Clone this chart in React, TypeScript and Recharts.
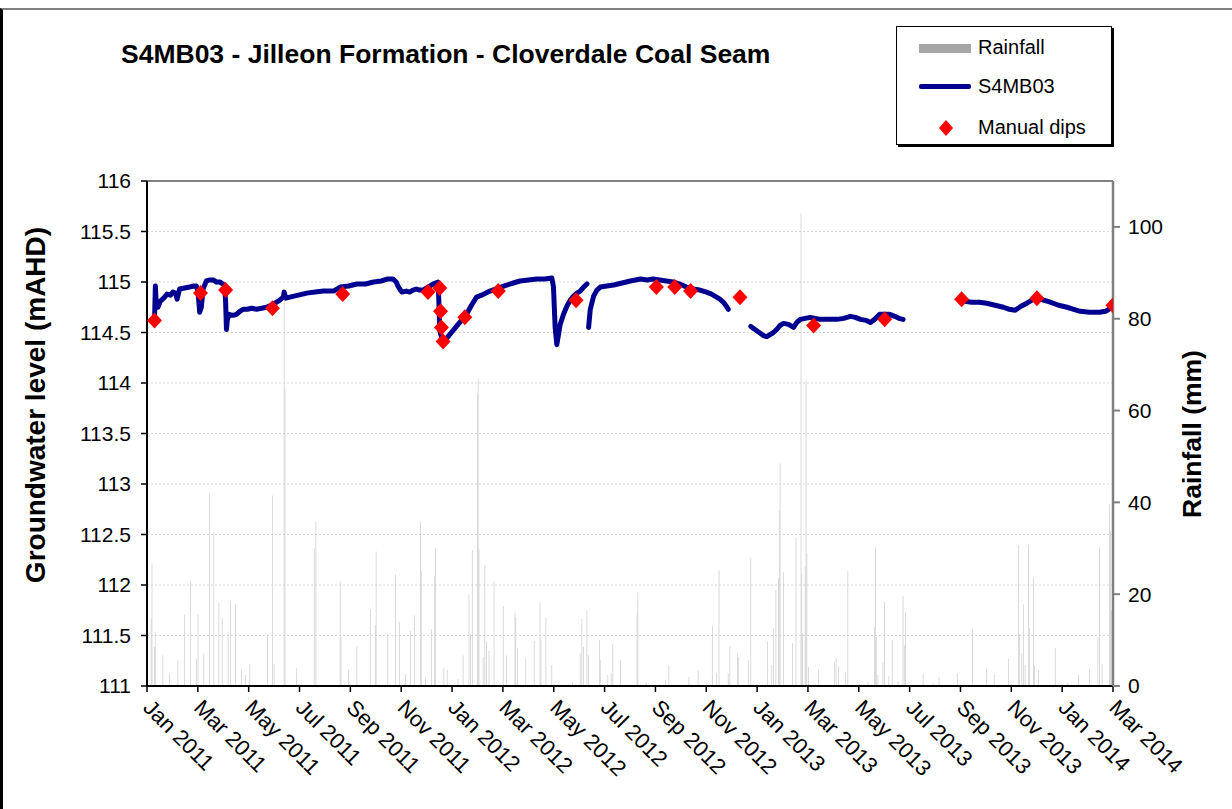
import React from 'react';
import {
  ComposedChart,
  Bar,
  Line,
  Scatter,
  XAxis,
  YAxis,
  CartesianGrid,
  ReferenceLine,
} from 'recharts';

// ---- axis definitions ----
const X_MAX_DAY = 1155; // days from 1 Jan 2011 to 1 Mar 2014
const xTickLabels = [
  'Jan 2011', 'Mar 2011', 'May 2011', 'Jul 2011', 'Sep 2011', 'Nov 2011',
  'Jan 2012', 'Mar 2012', 'May 2012', 'Jul 2012', 'Sep 2012', 'Nov 2012',
  'Jan 2013', 'Mar 2013', 'May 2013', 'Jul 2013', 'Sep 2013', 'Nov 2013',
  'Jan 2014', 'Mar 2014',
];
const leftTicks = [111, 111.5, 112, 112.5, 113, 113.5, 114, 114.5, 115, 115.5, 116];
const rightTicks = [0, 20, 40, 60, 80, 100];

// ---- groundwater logger (day since 1 Jan 2011, level mAHD); null = gap ----
const gwDays = [
  8, 9, 10, 11, 13, 16, 20, 24, 28, 31, 34, 36, 38, 39, 45, 51, 56, 59, 61, 63, 65, 67, 71, 75, 79, 83, 87, 91, 93, 94, 95, 96, 98,
  103, 107, 111, 115, 120, 125, 131, 137, 143, 151, 157, 163, 164, 166, 171, 181, 191, 201, 211, 223, 231, 241, 251, 261, 271, 280,
  288, 294, 298, 300, 303, 305, 310, 314, 318, 322, 326, 330, 336, 342, 348, 349, 350, 354, 358, 364, 370, 376, 382, 388, 394, 400,
  410, 420, 430, 438, 446, 456, 466, 476, 484, 486, 488, 490, 492, 494, 498, 502, 506, 510, 514, 518, 522, 526, 527,
  528, 530, 534, 538, 542, 550, 558, 568, 578, 590, 598, 605, 613, 621, 629, 637, 645, 653, 661, 669, 675, 681, 685, 689, 692, 695, 700,
  722, 727, 732, 737, 741, 745, 749, 753, 757, 761, 767, 773, 777, 781, 787, 793, 799, 805, 815, 825, 833, 841, 847, 853, 860, 865,
  870, 876, 882, 888, 894, 899, 904, 910,
  978, 986, 995, 1004, 1014, 1024, 1031, 1038, 1045, 1052, 1058, 1064, 1072, 1080, 1090, 1100, 1108, 1116, 1127, 1139, 1146, 1150, 1154,
];
const gwLevels: (number | null)[] = [
  114.6, 114.62, 114.96, 114.8, 114.75, 114.81, 114.84, 114.88, 114.87, 114.9, 114.89, 114.83, 114.9, 114.93, 114.94, 114.95, 114.96,
  114.96, 114.9, 114.7, 114.75, 114.93, 115.01, 115.02, 115.02, 115.0, 115.0, 114.98, 114.96, 114.8, 114.53, 114.62, 114.68,
  114.67, 114.68, 114.71, 114.73, 114.73, 114.74, 114.73, 114.74, 114.75, 114.78, 114.81, 114.85, 114.9, 114.84, 114.85, 114.87,
  114.89, 114.9, 114.91, 114.91, 114.95, 114.96, 114.98, 114.98, 115.0, 115.01,
  115.03, 115.03, 115.0, 114.96, 114.92, 114.9, 114.91, 114.9, 114.92, 114.93, 114.92, 114.92, 114.95, 114.98, 115.0, 114.8, 114.52,
  114.4, 114.44, 114.5, 114.56, 114.62, 114.68, 114.77, 114.85, 114.87,
  114.91, 114.94, 114.97, 114.99, 115.01, 115.02, 115.03, 115.03, 115.04, 114.95, 114.55, 114.38, 114.48, 114.58, 114.68, 114.76,
  114.82, 114.86, 114.89, 114.91, 114.95, 114.98, null,
  114.55, 114.73, 114.86, 114.92, 114.95, 114.96, 114.97, 114.99, 115.01, 115.03, 115.02, 115.03, 115.02, 115.01, 115.0, 114.98,
  114.95, 114.93, 114.92, 114.9, 114.88, 114.85, 114.83, 114.8, 114.77, 114.73, null,
  114.56, 114.53, 114.5, 114.47, 114.46, 114.48, 114.5, 114.53, 114.57, 114.59, 114.58, 114.55, 114.6, 114.63, 114.64, 114.65,
  114.64, 114.63, 114.63, 114.63, 114.64, 114.66, 114.65, 114.63, 114.62, 114.6, 114.63, 114.68, 114.68, 114.68, 114.66, 114.64,
  114.63, null,
  114.81, 114.8, 114.8, 114.79, 114.77, 114.75, 114.73, 114.72, 114.76, 114.79, 114.82, 114.85, 114.82, 114.8, 114.77, 114.75,
  114.73, 114.71, 114.7, 114.7, 114.71, 114.73, 114.76,
];

// ---- manual dips ----
const dipDays = [9, 64, 94, 150, 234, 336, 350, 351, 352, 354, 380, 420, 513, 609, 631, 650, 709, 797, 882, 974, 1064, 1155];
const dipLevels = [
  114.62, 114.89, 114.92, 114.74, 114.88, 114.9, 114.94, 114.71, 114.55, 114.41, 114.65, 114.91, 114.82, 114.95, 114.95, 114.91,
  114.85, 114.57, 114.63, 114.83, 114.84, 114.77,
];

// ---- daily rainfall (day, mm) ----
const rainDays = [
  5, 6, 9, 10, 19, 27, 37, 45, 52, 59, 61, 68, 75, 80, 86, 90, 97, 100, 106, 113, 118, 123, 144, 150, 152, 164, 165, 179, 200, 202,
  231, 232, 241, 251, 267, 273, 274, 288, 297, 302, 309, 315, 320, 327, 328, 333, 340, 344, 345, 355, 359, 372, 378, 385, 387, 389,
  395, 396, 397, 402, 404, 406, 409, 415, 426, 430, 440, 441, 443, 453, 463, 470, 471, 477, 484, 509, 518, 520, 522, 526, 528, 541,
  542, 551, 555, 557, 566, 586, 587, 597, 620, 624, 648, 659, 676, 681, 684, 695, 697, 706, 707, 719, 722, 742, 747, 749, 752, 755,
  756, 757, 761, 772, 776, 782, 783, 784, 787, 788, 789, 791, 803, 822, 824, 827, 835, 838, 862, 870, 871, 872, 874, 880, 882, 887,
  891, 898, 904, 906, 907, 928, 940, 947, 969, 987, 1004, 1013, 1030, 1042, 1043, 1046, 1048, 1050, 1054, 1055, 1060, 1061, 1066,
  1086, 1101, 1114, 1127, 1137, 1139, 1142, 1151, 1152, 1153,
];
const rainMm = [
  14.8, 26.5, 8.5, 11.7, 6.7, 2.8, 5.6, 15.6, 22.8, 6, 15.6, 7, 42, 33.5, 18, 14.8, 11.7, 18.5, 17.8, 3.5, 2.4, 4.8, 11.3, 41.5, 4.8,
  86, 65, 3.9, 30, 35.8, 22.8, 11, 3.5, 8.7, 16.7, 13.3, 29.3, 11.3, 24.3, 14, 2.6, 12, 15.4, 35.8, 25, 1.7, 12.4, 24, 30, 3.9, 3.5,
  1.5, 6.7, 20, 11.3, 29.6, 63.7, 67, 29.8, 6.3, 26.3, 9.6, 7.6, 22.8, 17.4, 6.7, 16, 15, 8.3, 6, 9.8, 18.2, 10.2, 14.8, 4.6, 0.9,
  7, 14.6, 8.5, 16.5, 6.7, 10, 5.6, 2.4, 2.8, 9.1, 5.6, 16, 20.4, 0.7, 1.3, 4.6, 2, 3.3, 13, 2.8, 25.2, 2.8, 8.7, 7, 6.3, 5.6, 28,
  9.6, 4.6, 12.6, 20.9, 23.5, 38.3, 48.5, 24.8, 9.3, 32.4, 103, 24.6, 11.5, 26, 66.5, 28.9, 4.1, 3.5, 5.2, 6.1, 4.3, 3, 25, 0.9,
  12.8, 30.2, 10.7, 2.4, 5.2, 18.3, 2.2, 10, 1.1, 19.6, 8.9, 16, 2.8, 0.7, 2, 2.8, 12.4, 3.7, 2.4, 5.9, 30.7, 11.3, 7.2, 17.8, 4.6,
  30.7, 12.6, 23.7, 4.6, 3.5, 8.3, 0.7, 2.4, 3.7, 10.7, 30.2, 4.8, 39.6, 33.7, 16.5,
];

const rainData = rainDays.map((d, i) => ({ d, mm: rainMm[i] }));
const gwData = gwDays.map((d, i) => ({ d, gw: gwLevels[i] }));
const dipData = dipDays.map((d, i) => ({ d, v: dipLevels[i] }));
const xTicks = xTickLabels.map((_, i) => (i * X_MAX_DAY) / (xTickLabels.length - 1));

const FONT = '"Liberation Sans", Arial, Helvetica, sans-serif';

const XTick = (props: any) => {
  const { x, y, payload } = props;
  const idx = Math.round((payload.value * (xTickLabels.length - 1)) / X_MAX_DAY);
  const tx = x - 5;
  const ty = y + 15;
  return (
    <text x={tx} y={ty} transform={`rotate(45, ${tx}, ${ty})`} textAnchor="start" fontSize={22} fill="#000" fontFamily={FONT}>
      {xTickLabels[idx]}
    </text>
  );
};

const Diamond = (props: any) => {
  const { cx, cy } = props;
  if (cx == null || cy == null) return null;
  return <polygon points={`${cx},${cy - 8} ${cx + 7.5},${cy} ${cx},${cy + 8} ${cx - 7.5},${cy}`} fill="#ff0000" />;
};

export default function App() {
  return (
    <div style={{ position: 'absolute', left: 0, top: 0, width: 1232, height: 809, background: '#fff', fontFamily: FONT, overflow: 'hidden' }}>
      <div style={{ position: 'absolute', left: 0, top: 8, width: 1232, height: 801, borderTop: '2px solid #808080', borderLeft: '3px solid #000', boxSizing: 'border-box' }} />
      <div style={{ position: 'absolute', left: 121, top: 38, fontSize: 26.5, fontWeight: 'bold', lineHeight: '32px', whiteSpace: 'nowrap', color: '#000' }}>
        S4MB03 - Jilleon Formation - Cloverdale Coal Seam
      </div>

      <ComposedChart width={1232} height={809} data={rainData} margin={{ top: 181, right: 0, bottom: 0, left: 0 }} style={{ position: 'absolute', left: 0, top: 0 }}>
        <CartesianGrid yAxisId="left" vertical={false} stroke="#d6d6d6" strokeDasharray="2 2" />
        <XAxis
          dataKey="d"
          type="number"
          domain={[0, X_MAX_DAY]}
          ticks={xTicks}
          interval={0}
          height={123}
          tick={<XTick />}
          tickSize={6}
          tickLine={{ stroke: '#000', strokeWidth: 1.5 }}
          axisLine={{ stroke: '#000', strokeWidth: 2 }}
          allowDataOverflow
        />
        <YAxis
          yAxisId="left"
          width={147}
          domain={[111, 116]}
          ticks={leftTicks}
          interval={0}
          tickSize={6}
          tickMargin={10}
          tick={{ fontSize: 21, fill: '#000' }}
          tickLine={{ stroke: '#000', strokeWidth: 1.5 }}
          axisLine={{ stroke: '#000', strokeWidth: 2 }}
          allowDataOverflow
        />
        <YAxis
          yAxisId="right"
          orientation="right"
          width={119}
          domain={[0, 110]}
          ticks={rightTicks}
          interval={0}
          tickSize={7}
          tickMargin={8}
          tick={{ fontSize: 21, fill: '#000' }}
          tickLine={{ stroke: '#808080', strokeWidth: 2 }}
          axisLine={{ stroke: '#808080', strokeWidth: 2.5 }}
          allowDataOverflow
        />
        <ReferenceLine yAxisId="left" y={116} stroke="#808080" strokeWidth={2} />
        <Bar yAxisId="right" dataKey="mm" barSize={2} fill="#cfcfcf" isAnimationActive={false} />
        <Line
          yAxisId="left"
          data={gwData}
          dataKey="gw"
          type="linear"
          stroke="#000090"
          strokeWidth={5}
          strokeLinejoin="round"
          strokeLinecap="round"
          dot={false}
          activeDot={false}
          connectNulls={false}
          isAnimationActive={false}
        />
        <Scatter yAxisId="left" data={dipData} dataKey="v" shape={<Diamond />} isAnimationActive={false} />
      </ComposedChart>

      <svg width={1232} height={809} style={{ position: 'absolute', left: 0, top: 0, pointerEvents: 'none' }}>
        <text x={45} y={405} transform="rotate(-90, 45, 405)" textAnchor="middle" fontSize={28} fontWeight="bold" fontFamily={FONT} fill="#000">
          Groundwater level (mAHD)
        </text>
        <text x={1201} y={434} transform="rotate(-90, 1201, 434)" textAnchor="middle" fontSize={26.5} fontWeight="bold" fontFamily={FONT} fill="#000">
          Rainfall (mm)
        </text>
      </svg>

      <div style={{ position: 'absolute', left: 896, top: 26, width: 216, height: 119, border: '1px solid #000', boxShadow: '2px 2px 0 #000', background: '#fff', boxSizing: 'border-box' }}>
        <div style={{ position: 'absolute', left: 22, top: 17, width: 52, height: 9, background: '#a6a6a6' }} />
        <div style={{ position: 'absolute', left: 81, top: 8, fontSize: 20, lineHeight: '24px', color: '#000' }}>Rainfall</div>
        <div style={{ position: 'absolute', left: 22, top: 57, width: 52, height: 5, background: '#000090', borderRadius: 2 }} />
        <div style={{ position: 'absolute', left: 81, top: 47, fontSize: 20, lineHeight: '24px', color: '#000' }}>S4MB03</div>
        <svg style={{ position: 'absolute', left: 41, top: 92 }} width={16} height={18}>
          <polygon points="8,1 15,9 8,17 1,9" fill="#ff0000" />
        </svg>
        <div style={{ position: 'absolute', left: 81, top: 88, fontSize: 20, lineHeight: '24px', color: '#000' }}>Manual dips</div>
      </div>
    </div>
  );
}
